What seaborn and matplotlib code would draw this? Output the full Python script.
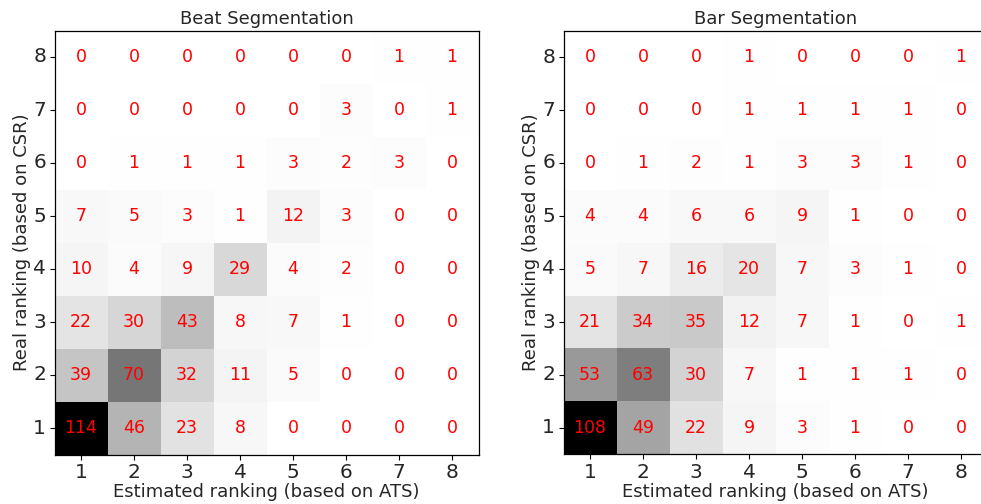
import numpy as np
import pandas as pd
import matplotlib
matplotlib.use("Agg")
import matplotlib.pyplot as plt
import seaborn as sns

sns.set_style("white")
plt.rcParams['font.family'] = ['DejaVu Sans']

ranks = [1, 2, 3, 4, 5, 6, 7, 8]

# rows: real ranking 1..8, columns: estimated ranking 1..8
beat_counts = [
    [114, 46, 23, 8, 0, 0, 0, 0],
    [39, 70, 32, 11, 5, 0, 0, 0],
    [22, 30, 43, 8, 7, 1, 0, 0],
    [10, 4, 9, 29, 4, 2, 0, 0],
    [7, 5, 3, 1, 12, 3, 0, 0],
    [0, 1, 1, 1, 3, 2, 3, 0],
    [0, 0, 0, 0, 0, 3, 0, 1],
    [0, 0, 0, 0, 0, 0, 1, 1],
]
bar_counts = [
    [108, 49, 22, 9, 3, 1, 0, 0],
    [53, 63, 30, 7, 1, 1, 1, 0],
    [21, 34, 35, 12, 7, 1, 0, 1],
    [5, 7, 16, 20, 7, 3, 1, 0],
    [4, 4, 6, 6, 9, 1, 0, 0],
    [0, 1, 2, 1, 3, 3, 1, 0],
    [0, 0, 0, 1, 1, 1, 1, 0],
    [0, 0, 0, 1, 0, 0, 0, 1],
]
titles = ["Beat Segmentation", "Bar Segmentation"]

W, H = 981, 504
fig = plt.figure(figsize=(W / 100, H / 100), dpi=100)
size = 424
lefts = [54.5, 563.5]
bottom = H - 454.5

for left, counts, title in zip(lefts, [beat_counts, bar_counts], titles):
    ax = fig.add_axes([left / W, bottom / H, size / W, size / H])
    df = pd.DataFrame(counts, index=ranks, columns=ranks).iloc[::-1]
    sns.heatmap(df, ax=ax, cmap="Greys", vmin=0, annot=True, fmt="d",
                cbar=False, square=True,
                annot_kws={"color": "red", "fontsize": 12.5})
    for sp in ax.spines.values():
        sp.set_visible(True)
        sp.set_color("black")
        sp.set_linewidth(0.9)
    ax.tick_params(axis="both", which="both", length=3.5, width=0.8, pad=2.5,
                   labelsize=14.5, left=True, bottom=True, color="black")
    ax.set_yticklabels(ax.get_yticklabels(), rotation=0)
    ax.set_xticklabels(ax.get_xticklabels(), rotation=0)
    ax.set_title(title, fontsize=13, pad=5)
    ax.set_xlabel("Estimated ranking (based on ATS)", fontsize=13, labelpad=1)
    ax.set_ylabel("Real ranking (based on CSR)", fontsize=13, labelpad=2)

fig.savefig("out.png", dpi=100)
